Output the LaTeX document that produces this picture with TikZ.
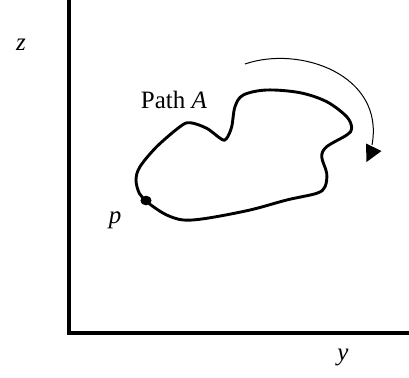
\documentclass[tikz,border=0pt]{standalone}
\usepackage{fontspec}
\setmainfont{Liberation Serif}
\begin{document}
\begin{tikzpicture}[x=1pt,y=-1pt,
  axis/.style={line width=4pt},
  loop/.style={line width=2.9pt,line join=round},
  lbl/.style={inner sep=0pt,font=\fontsize{25}{25}\selectfont}]
\useasboundingbox (0,0) rectangle (409,377);
\coordinate (top) at (69,2);
\coordinate (origin) at (69,333);
\coordinate (right) at (409,333);
\draw[axis,line cap=rect] (top) -- (origin) -- (right);
\draw[loop] plot[smooth cycle,tension=0.55] coordinates {
 (146,200.7) (153.3,206.7) (166.7,215) (183.3,220) (206.7,218.3) (250,210)
 (286.7,200) (316.7,193.3) (325,186.7) (326.7,173.3) (321.7,156.7) (326.7,146.7)
 (346.7,135) (351.7,128.3) (346.7,116.7) (326.7,101.7) (300,92.7) (266.7,90)
 (243.3,95) (235,106.7) (231.7,126.7) (226.7,138.3) (221.7,139.3) (206.7,128.3)
 (190,122.7) (180,126.7) (156.7,146.7) (140,166.7) (136,180) (139.3,193.3)};
\fill (146,200.5) ellipse (5.6pt and 4.8pt);
\coordinate (arcstart) at (245,64);
\coordinate (arcend) at (372,145);
\draw[line width=1pt] (arcstart) .. controls (300,45) and (385,75) .. (arcend);
\fill (366,143.5) -- (381.5,151) -- (366.5,162) -- cycle;
\node[lbl] (z) at (21,45) {\itshape z};
\node[lbl] (y) at (343,357) {\itshape y};
\node[lbl] (p) at (115,220) {\itshape p};
\node[lbl,anchor=base] (pathA) at (174,108) {Path \textit{A}};
\end{tikzpicture}
\end{document}
